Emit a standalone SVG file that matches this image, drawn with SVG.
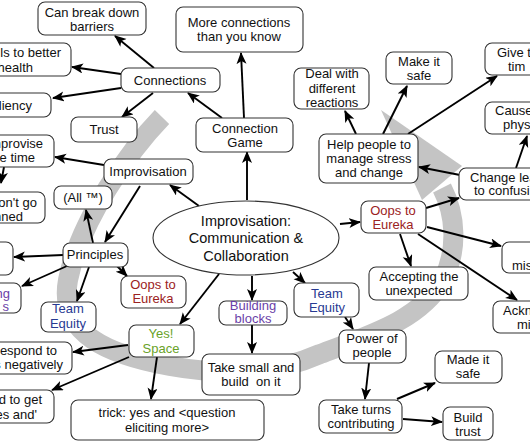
<svg xmlns="http://www.w3.org/2000/svg" width="530" height="443" viewBox="0 0 530 443">
<defs>
<marker id="ah" markerUnits="userSpaceOnUse" markerWidth="14" markerHeight="12" refX="11" refY="5" orient="auto">
<path d="M0,0 L12,5 L0,10 L3,5 z" fill="#000"/>
</marker>
<style>
.n rect{fill:#fff;stroke:#333;stroke-width:1.1}
text{font-family:"Liberation Sans",Arial,Helvetica,sans-serif;font-size:13px;fill:#111}
.c{text-anchor:middle}
.e{text-anchor:end}
.red{fill:#9b2222}
.blue{fill:#283a92}
.pur{fill:#6b3fa8}
.grn{fill:#69a228}
#connectors line{stroke:#000;stroke-width:1.9;marker-end:url(#ah)}
</style>
</defs>
<rect width="530" height="443" fill="#fff"/>
<g id="cycle">
<path d="M162,117 C130,150 80,220 68,280 C58,335 110,355 170,366 C220,375 270,376 320,354 C370,335 420,320 443,280 C458,250 456,215 442,188" fill="none" stroke="#c4c4c4" stroke-width="20"/>
<polygon points="381,110 462,166 422,200" fill="#c4c4c4"/>
</g>
<g id="connectors">
<line x1="154" y1="68" x2="115" y2="36"/>
<line x1="121" y1="74" x2="72" y2="67"/>
<line x1="121" y1="88" x2="53" y2="98"/>
<line x1="153" y1="93" x2="122" y2="117"/>
<line x1="222" y1="118" x2="188" y2="93"/>
<line x1="244" y1="118" x2="241" y2="53"/>
<line x1="247" y1="200" x2="247" y2="152"/>
<line x1="199" y1="206" x2="170" y2="185"/>
<line x1="104" y1="165" x2="55" y2="157"/>
<line x1="4" y1="167" x2="1" y2="183"/>
<line x1="140" y1="186" x2="105" y2="242"/>
<line x1="93" y1="243" x2="86" y2="210"/>
<line x1="63" y1="255" x2="14" y2="257"/>
<line x1="67" y1="266" x2="22" y2="286"/>
<line x1="89" y1="267" x2="77" y2="301"/>
<line x1="117" y1="266" x2="127" y2="276"/>
<line x1="219" y1="274" x2="180" y2="324"/>
<line x1="252" y1="276" x2="252" y2="300"/>
<line x1="293" y1="272" x2="305" y2="283"/>
<line x1="340" y1="224" x2="360" y2="222"/>
<line x1="426" y1="208" x2="459" y2="198"/>
<line x1="400" y1="234" x2="411" y2="266"/>
<line x1="427" y1="227" x2="501" y2="246"/>
<line x1="418" y1="234" x2="517" y2="300"/>
<line x1="460" y1="175" x2="419" y2="167"/>
<line x1="516" y1="168" x2="527" y2="136"/>
<line x1="356" y1="134" x2="345" y2="111"/>
<line x1="383" y1="134" x2="407" y2="86"/>
<line x1="408" y1="134" x2="497" y2="76"/>
<line x1="252" y1="325" x2="252" y2="353"/>
<line x1="345" y1="317" x2="353" y2="329"/>
<line x1="369" y1="363" x2="365" y2="399"/>
<line x1="397" y1="399" x2="435" y2="383"/>
<line x1="403" y1="419" x2="442" y2="422"/>
<line x1="128" y1="345" x2="73" y2="352"/>
<line x1="129" y1="357" x2="52" y2="390"/>
<line x1="157" y1="357" x2="151" y2="399"/>
</g>
<g id="center" class="n">
<ellipse cx="246" cy="238" rx="93" ry="37" fill="#fff" stroke="#333" stroke-width="1.1"/>
<text class="c" x="246" y="226" style="font-size:14.5px">Improvisation:</text>
<text class="c" x="246" y="243" style="font-size:14.5px">Communication &amp;</text>
<text class="c" x="246" y="261" style="font-size:14.5px">Collaboration</text>
</g>
<g id="n-barriers" class="n"><rect x="38" y="2" width="108" height="33" rx="7"/><text class="c" x="92" y="17">Can break down</text><text class="c" x="92" y="31">barriers</text></g>
<g id="n-health" class="n"><rect x="-10" y="43" width="81" height="33" rx="7"/><text class="e" x="61" y="57">ls to better</text><text class="e" x="33" y="72">health</text></g>
<g id="n-liency" class="n"><rect x="-10" y="93" width="61" height="24" rx="7"/><text class="e" x="32" y="110">liency</text></g>
<g id="n-connections" class="n"><rect x="121" y="68" width="99" height="24" rx="7"/><text class="c" x="170" y="85">Connections</text></g>
<g id="n-trust" class="n"><rect x="71" y="117" width="66" height="25" rx="7"/><text class="c" x="104" y="134">Trust</text></g>
<g id="n-more" class="n"><rect x="176" y="7" width="127" height="45" rx="7"/><text class="c" x="239" y="27">More connections</text><text class="c" x="239" y="41">than you know</text></g>
<g id="n-game" class="n"><rect x="196" y="118" width="97" height="34" rx="7"/><text class="c" x="245" y="133">Connection</text><text class="c" x="245" y="147">Game</text></g>
<g id="n-improvise" class="n"><rect x="-10" y="135" width="64" height="32" rx="7"/><text class="e" x="43" y="148">nprovise</text><text class="e" x="35" y="162">e time</text></g>
<g id="n-dontgo" class="n"><rect x="-10" y="192" width="55" height="31" rx="7"/><text class="e" x="37" y="207">on't go</text><text class="e" x="23" y="221">nned</text></g>
<g id="n-all" class="n"><rect x="54" y="186" width="58" height="23" rx="7"/><text class="c" x="83" y="202">(All ™)</text></g>
<g id="n-improvisation" class="n"><rect x="104" y="159" width="89" height="25" rx="7"/><text class="c" x="148" y="176">Improvisation</text></g>
<g id="n-principles" class="n"><rect x="63" y="243" width="65" height="24" rx="7"/><text class="c" x="95" y="259">Principles</text></g>
<g id="n-left" class="n"><rect x="-10" y="242" width="23" height="33" rx="7"/></g>
<g id="n-blocksL" class="n"><rect x="-10" y="283" width="31" height="30" rx="7"/><text class="e pur" x="10" y="298">ng</text><text class="e pur" x="9" y="311">s</text></g>
<g id="n-teamL" class="n"><rect x="41" y="302" width="55" height="30" rx="7"/><text class="c blue" x="68" y="313">Team</text><text class="c blue" x="68" y="328">Equity</text></g>
<g id="n-oopsL" class="n"><rect x="121" y="276" width="65" height="32" rx="7"/><text class="c red" x="153" y="289">Oops to</text><text class="c red" x="153" y="303">Eureka</text></g>
<g id="n-yes" class="n"><rect x="129" y="325" width="65" height="32" rx="7"/><text class="c grn" x="161" y="338">Yes!</text><text class="c grn" x="161" y="353">Space</text></g>
<g id="n-respond" class="n"><rect x="-10" y="342" width="82" height="32" rx="7"/><text class="e" x="57" y="355">espond to</text><text class="e" x="63" y="369">s negatively</text></g>
<g id="n-toget" class="n"><rect x="-10" y="390" width="64" height="33" rx="7"/><text class="e" x="42" y="404">d to get</text><text class="e" x="37" y="419">es and'</text></g>
<g id="n-trick" class="n"><rect x="71" y="400" width="193" height="40" rx="7"/><text class="c" x="167" y="417">trick: yes and &lt;question</text><text class="c" x="167" y="432">eliciting more&gt;</text></g>
<g id="n-blocks" class="n"><rect x="219" y="301" width="68" height="24" rx="7"/><text class="c pur" x="253" y="310">Building</text><text class="c pur" x="253" y="323">blocks</text></g>
<g id="n-teamR" class="n"><rect x="294" y="283" width="65" height="34" rx="7"/><text class="c blue" x="327" y="298">Team</text><text class="c blue" x="327" y="312">Equity</text></g>
<g id="n-small" class="n"><rect x="202" y="354" width="98" height="41" rx="7"/><text class="c" x="251" y="372">Take small and</text><text class="c" x="251" y="386">build&#160; on it</text></g>
<g id="n-power" class="n"><rect x="339" y="330" width="67" height="33" rx="7"/><text class="c" x="372" y="343">Power of</text><text class="c" x="372" y="357">people</text></g>
<g id="n-turns" class="n"><rect x="319" y="400" width="83" height="33" rx="7"/><text class="c" x="361" y="414">Take turns</text><text class="c" x="361" y="428">contributing</text></g>
<g id="n-madesafe" class="n"><rect x="435" y="351" width="67" height="32" rx="7"/><text class="c" x="468" y="364">Made it</text><text class="c" x="468" y="378">safe</text></g>
<g id="n-buildtrust" class="n"><rect x="443" y="407" width="50" height="33" rx="7"/><text class="c" x="468" y="422">Build</text><text class="c" x="468" y="436">trust</text></g>
<g id="n-accepting" class="n"><rect x="369" y="267" width="99" height="33" rx="7"/><text class="c" x="419" y="281">Accepting the</text><text class="c" x="419" y="295">unexpected</text></g>
<g id="n-oopsR" class="n"><rect x="361" y="201" width="65" height="32" rx="7"/><text class="c red" x="393" y="215">Oops to</text><text class="c red" x="393" y="229">Eureka</text></g>
<g id="n-mis" class="n"><rect x="502" y="242" width="40" height="31" rx="7"/><text x="512" y="270">mis</text></g>
<g id="n-ackn" class="n"><rect x="493" y="301" width="50" height="32" rx="7"/><text x="503" y="315">Ackn</text><text x="517" y="329">mi</text></g>
<g id="n-change" class="n"><rect x="459" y="168" width="80" height="32" rx="7"/><text x="470" y="182">Change lea</text><text x="474" y="195">to confusi</text></g>
<g id="n-cause" class="n"><rect x="485" y="102" width="60" height="32" rx="7"/><text x="495" y="115">Cause</text><text x="503" y="129">phys</text></g>
<g id="n-give" class="n"><rect x="485" y="43" width="60" height="32" rx="7"/><text x="497" y="57">Give t</text><text x="508" y="71">tim</text></g>
<g id="n-help" class="n"><rect x="319" y="134" width="99" height="49" rx="7"/><text class="c" x="369" y="149">Help people to</text><text class="c" x="369" y="163">manage stress</text><text class="c" x="369" y="177">and change</text></g>
<g id="n-makesafe" class="n"><rect x="386" y="52" width="66" height="32" rx="7"/><text class="c" x="419" y="66">Make it</text><text class="c" x="419" y="80">safe</text></g>
<g id="n-deal" class="n"><rect x="294" y="68" width="75" height="41" rx="7"/><text class="c" x="332" y="78">Deal with</text><text class="c" x="332" y="93">different</text><text class="c" x="332" y="107">reactions</text></g>
</svg>
